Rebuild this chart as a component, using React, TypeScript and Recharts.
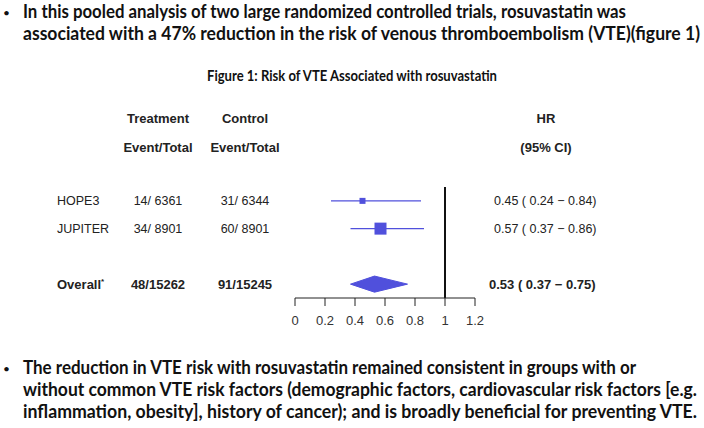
import {
  ComposedChart,
  Scatter,
  ErrorBar,
  Area,
  XAxis,
  YAxis,
  ReferenceLine,
} from 'recharts';

const studies = ['HOPE3', 'JUPITER'];
const treatment = ['14/ 6361', '34/ 8901'];
const control = ['31/ 6344', '60/ 8901'];
const hr = [0.45, 0.57];
const ciLow = [0.24, 0.37];
const ciHigh = [0.84, 0.86];
const weights = [0.25, 1];
const rows = [1, 2];

const overall = { label: 'Overall', treatment: '48/15262', control: '91/15245', hr: 0.53, lo: 0.37, hi: 0.75, row: 4 };

const xTicks = [0, 0.2, 0.4, 0.6, 0.8, 1, 1.2];

const topLines = [
  'In this pooled analysis of two large randomized controlled trials, rosuvastatin was',
  'associated with a 47% reduction in the risk of venous thromboembolism (VTE)(figure 1)',
];
const bottomLines = [
  'The reduction in VTE risk with rosuvastatin remained consistent in groups with or',
  'without common VTE risk factors (demographic factors, cardiovascular risk factors [e.g.',
  'inflammation, obesity], history of cancer); and is broadly beneficial for preventing VTE.',
];
const title = 'Figure 1: Risk of VTE Associated with rosuvastatin';

const W = 704;
const H = 428;
const PLOT_TOP = 187;
const PLOT_BOTTOM = 298;
const Y_DOMAIN: [number, number] = [0.5, 4.5];
const BLUE = '#5050dc';
const DIAMOND_HALF = 0.29;

const rowY = (r: number) =>
  PLOT_TOP + ((r - Y_DOMAIN[0]) / (Y_DOMAIN[1] - Y_DOMAIN[0])) * (PLOT_BOTTOM - PLOT_TOP);

const points = studies.map((s, i) => ({
  name: s,
  x: hr[i],
  y: rows[i],
  err: [hr[i] - ciLow[i], ciHigh[i] - hr[i]],
  w: weights[i],
}));

const diamond = [
  { x: overall.lo, d: [overall.row, overall.row] },
  { x: overall.hr, d: [overall.row - DIAMOND_HALF, overall.row + DIAMOND_HALF] },
  { x: overall.hi, d: [overall.row, overall.row] },
];

const SquareShape = (props: any) => {
  const { cx, cy, payload } = props;
  const side = 12 * Math.sqrt(payload.w);
  return <rect x={cx - side / 2} y={cy - side / 2} width={side} height={side} fill={BLUE} />;
};

const fmt = (v: number) => v.toFixed(2);
const hrText = (h: number, l: number, u: number) => `${fmt(h)} ( ${fmt(l)} \u2212 ${fmt(u)})`;

const big = { fontFamily: 'Lato, "Open Sans", sans-serif', fontWeight: 700, fontSize: 18, fill: '#111' };
const dot = { fontFamily: 'Lato, sans-serif', fontSize: 12, fill: '#111' };
const tbl = { fontFamily: '"Liberation Sans", Arial, sans-serif', fontSize: 12.5, fill: '#222' };
const tblBold = { ...tbl, fontWeight: 700, fontSize: 13 };

export default function App() {
  return (
    <div style={{ position: 'absolute', left: 0, top: 0, width: W, height: H, background: '#fff' }}>
      <ComposedChart
        width={W}
        height={H}
        margin={{ top: PLOT_TOP, right: W - 475, left: 295, bottom: H - PLOT_BOTTOM - 30 }}
      >
        <XAxis
          type="number"
          dataKey="x"
          domain={[0, 1.2]}
          ticks={xTicks}
          height={30}
          tickSize={8}
          tickMargin={10}
          axisLine={{ stroke: '#222' }}
          tickLine={{ stroke: '#222' }}
          tick={{ fill: '#333', fontSize: 13, fontFamily: '"Liberation Sans", Arial, sans-serif' }}
          allowDataOverflow
        />
        <YAxis type="number" dataKey="y" domain={Y_DOMAIN} reversed hide allowDataOverflow />
        <ReferenceLine x={1} stroke="#111" strokeWidth={2} />
        <Area
          data={diamond}
          dataKey="d"
          type="linear"
          stroke={BLUE}
          fill={BLUE}
          fillOpacity={1}
          isAnimationActive={false}
          dot={false}
          activeDot={false}
        />
        <Scatter data={points} dataKey="y" shape={SquareShape} isAnimationActive={false}>
          <ErrorBar dataKey="err" direction="x" width={0} stroke={BLUE} strokeWidth={1.2} />
        </Scatter>
      </ComposedChart>

      <svg width={W} height={H} style={{ position: 'absolute', left: 0, top: 0, pointerEvents: 'none' }}>
        <text x={3} y={17} style={dot}>•</text>
        <text x={23} y={18} style={big} textLength={603} lengthAdjust="spacingAndGlyphs">{topLines[0]}</text>
        <text x={23} y={40} style={big} textLength={677} lengthAdjust="spacingAndGlyphs">{topLines[1]}</text>

        <text x={352} y={81} textAnchor="middle" style={{ ...big, fontSize: 14.5 }} textLength={290} lengthAdjust="spacingAndGlyphs">
          {title}
        </text>

        <text x={158} y={123} textAnchor="middle" style={tblBold}>Treatment</text>
        <text x={245} y={123} textAnchor="middle" style={tblBold}>Control</text>
        <text x={546} y={123} textAnchor="middle" style={tblBold}>HR</text>
        <text x={158} y={152} textAnchor="middle" style={tblBold}>Event/Total</text>
        <text x={245} y={152} textAnchor="middle" style={tblBold}>Event/Total</text>
        <text x={546} y={152} textAnchor="middle" style={tblBold}>(95% CI)</text>

        {studies.map((s, i) => (
          <g key={s}>
            <text x={57} y={rowY(rows[i]) + 4.5} style={tbl}>{s}</text>
            <text x={158} y={rowY(rows[i]) + 4.5} textAnchor="middle" style={tbl}>{treatment[i]}</text>
            <text x={245} y={rowY(rows[i]) + 4.5} textAnchor="middle" style={tbl}>{control[i]}</text>
            <text x={494} y={rowY(rows[i]) + 4.5} style={tbl}>{hrText(hr[i], ciLow[i], ciHigh[i])}</text>
          </g>
        ))}
        <text x={57} y={rowY(overall.row) + 4.5} style={tblBold}>
          {overall.label}<tspan fontSize={8} dy={-5}>*</tspan>
        </text>
        <text x={158} y={rowY(overall.row) + 4.5} textAnchor="middle" style={tblBold}>{overall.treatment}</text>
        <text x={245} y={rowY(overall.row) + 4.5} textAnchor="middle" style={tblBold}>{overall.control}</text>
        <text x={489} y={rowY(overall.row) + 4.5} style={tblBold}>
          {hrText(overall.hr, overall.lo, overall.hi)}
        </text>

        <text x={3} y={373} style={dot}>•</text>
        <text x={23} y={374} style={big} textLength={613} lengthAdjust="spacingAndGlyphs">{bottomLines[0]}</text>
        <text x={23} y={396} style={big} textLength={674} lengthAdjust="spacingAndGlyphs">{bottomLines[1]}</text>
        <text x={23} y={418} style={big} textLength={674} lengthAdjust="spacingAndGlyphs">{bottomLines[2]}</text>
      </svg>
    </div>
  );
}
